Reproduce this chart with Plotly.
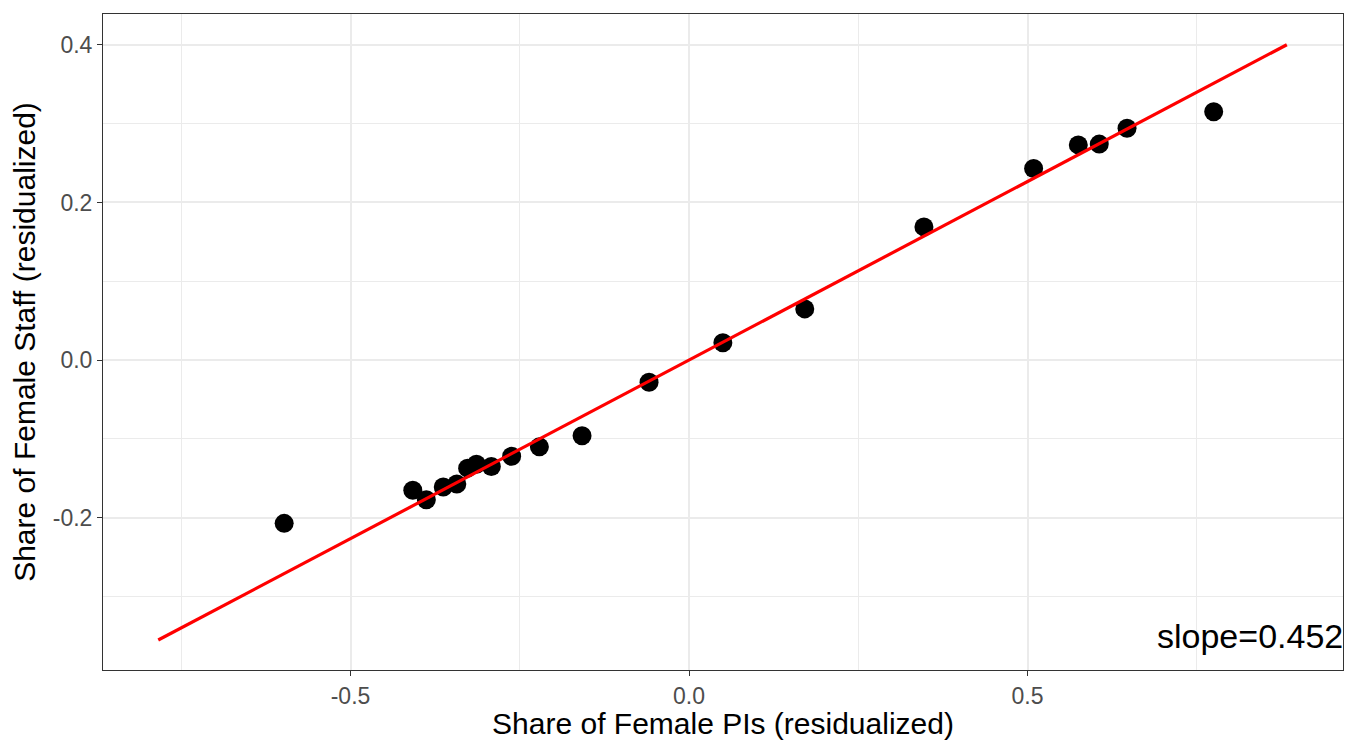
import plotly.graph_objects as go

# Data
pi_share = [-0.598, -0.408, -0.388, -0.363, -0.343, -0.327, -0.314, -0.292, -0.262,
            -0.221, -0.158, -0.059, 0.050, 0.171, 0.347, 0.509, 0.575, 0.606, 0.647, 0.775]
staff_share = [-0.207, -0.165, -0.177, -0.161, -0.157, -0.137, -0.132, -0.135, -0.122,
               -0.110, -0.096, -0.028, 0.022, 0.065, 0.169, 0.243, 0.273, 0.274, 0.294, 0.315]
fit_x = [-0.784, 0.883]
fit_y = [-0.355, 0.400]
slope_label = "slope=0.452"

x_range = [-0.8656, 0.966]
y_range = [-0.393, 0.439]

FONT = "Liberation Sans, Arial, sans-serif"

fig = go.Figure()
fig.add_trace(go.Scatter(x=pi_share, y=staff_share, mode="markers",
                         marker=dict(color="black", size=19, line=dict(width=0)),
                         showlegend=False))
fig.add_trace(go.Scatter(x=fit_x, y=fit_y, mode="lines",
                         line=dict(color="#FF0000", width=3.2), showlegend=False))

fig.add_annotation(x=x_range[1], y=-0.350, xref="x", yref="y", text=slope_label,
                   showarrow=False, xanchor="right", yanchor="middle",
                   borderpad=0, xshift=1,
                   font=dict(family=FONT, size=34, color="black"))

axis_common = dict(
    showline=True, linecolor="#333333", linewidth=1, mirror=True,
    ticks="outside", ticklen=5, tickcolor="#333333", tickwidth=1,
    showgrid=True, gridcolor="#EBEBEB", gridwidth=2,
    zeroline=False,
    tickfont=dict(family=FONT, size=23, color="#4D4D4D"),
)

fig.update_xaxes(range=x_range, tickvals=[-0.5, 0.0, 0.5], ticktext=["-0.5", "0.0", "0.5"],
                 minor=dict(tickvals=[-0.75, -0.25, 0.25, 0.75], showgrid=True,
                            gridcolor="#EBEBEB", gridwidth=1),
                 title=dict(text="Share of Female PIs (residualized)", standoff=4,
                            font=dict(family=FONT, size=30, color="black")),
                 **axis_common)
fig.update_yaxes(range=y_range, tickvals=[-0.2, 0.0, 0.2, 0.4], ticktext=["-0.2", "0.0", "0.2", "0.4"],
                 minor=dict(tickvals=[-0.3, -0.1, 0.1, 0.3], showgrid=True,
                            gridcolor="#EBEBEB", gridwidth=1),
                 title=dict(text="Share of Female Staff (residualized)", standoff=8,
                            font=dict(family=FONT, size=30, color="black")),
                 **axis_common)

fig.update_layout(width=1346, height=740, autosize=False,
                  margin=dict(l=103, r=3, t=14, b=70),
                  paper_bgcolor="white", plot_bgcolor="white")

fig.write_html("out.html")
